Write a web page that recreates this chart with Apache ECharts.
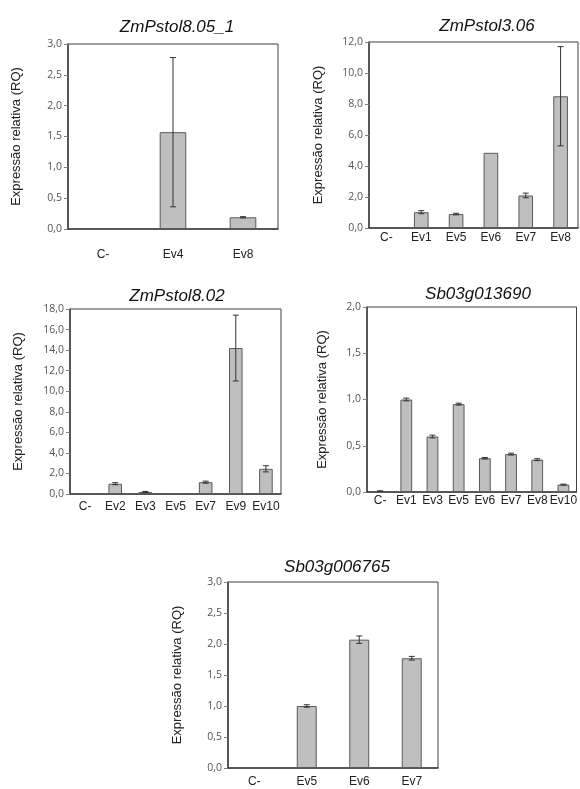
<!DOCTYPE html>
<html><head><meta charset="utf-8">
<script src="https://cdn.jsdelivr.net/npm/echarts@6/dist/echarts.min.js"></script>
<style>html,body{margin:0;padding:0;background:#fff}#c{width:580px;height:789px}</style>
</head><body><div id="c"></div>
<script>
const titles = ['ZmPstol8.05_1','ZmPstol3.06','ZmPstol8.02','Sb03g013690','Sb03g006765'];
const cats1 = ['C-','Ev4','Ev8'];
const vals1 = [0.015,1.57,0.19];
const err1  = [0,1.21,0.01];
const cats2 = ['C-','Ev1','Ev5','Ev6','Ev7','Ev8'];
const vals2 = [0,1.02,0.9,4.85,2.1,8.5];
const err2  = [0,0.1,0.05,0,0.15,3.2];
const cats3 = ['C-','Ev2','Ev3','Ev5','Ev7','Ev9','Ev10'];
const vals3 = [0.05,1.0,0.2,0.05,1.15,14.2,2.45];
const err3  = [0,0.1,0.05,0,0.1,3.2,0.3];
const cats4 = ['C-','Ev1','Ev3','Ev5','Ev6','Ev7','Ev8','Ev10'];
const vals4 = [0.01,1.0,0.6,0.95,0.365,0.41,0.35,0.08];
const err4  = [0.003,0.015,0.015,0.01,0.008,0.01,0.01,0.005];
const cats5 = ['C-','Ev5','Ev6','Ev7'];
const vals5 = [0,1.0,2.07,1.77];
const err5  = [0,0.02,0.06,0.03];
const yMax = [3,12,18,2,3];
const yStep = [0.5,2,2,0.5,0.5];
const yName = 'Expressão relativa (RQ)';

const panels = [
  {cats:cats1, vals:vals1, err:err1, g:{left:68,top:44,width:210,height:185}, t:[172,14], xm:20, bw:'38%', ng:45},
  {cats:cats2, vals:vals2, err:err2, g:{left:369,top:42,width:209,height:186}, t:[482,13], xm:4, bw:'42%', ng:44},
  {cats:cats3, vals:vals3, err:err3, g:{left:70,top:309,width:211,height:185}, t:[172,283], xm:7, bw:'45%', ng:45},
  {cats:cats4, vals:vals4, err:err4, g:{left:367,top:307,width:211,height:185}, t:[473,281], xm:3, bw:'45%', ng:38},
  {cats:cats5, vals:vals5, err:err5, g:{left:228,top:582,width:210,height:186}, t:[332,554], xm:8, bw:'38%', ng:44}
];

const fmt = v => v.toFixed(1).replace('.', ',');
const dark = '#404040';
const option = {animation:false, title:[], grid:[], xAxis:[], yAxis:[], series:[]};
panels.forEach((p,i)=>{
  option.title.push({text:titles[i], left:p.t[0], top:p.t[1], textAlign:'center',
    textStyle:{fontFamily:'Liberation Sans', fontStyle:'italic', fontWeight:'normal', fontSize:17, color:'#111'}});
  option.grid.push(Object.assign({show:true, borderColor:dark, borderWidth:1, backgroundColor:'transparent'}, p.g));
  option.xAxis.push({type:'category', gridIndex:i, data:p.cats,
    axisLine:{lineStyle:{color:dark,width:1.5}}, axisTick:{show:false},
    axisLabel:{color:'#222', fontFamily:'Liberation Sans', fontSize:12, margin:p.xm, interval:0}});
  option.yAxis.push({type:'value', gridIndex:i, min:0, max:yMax[i], interval:yStep[i],
    name:yName, nameLocation:'middle', nameGap:p.ng, nameRotate:90,
    nameTextStyle:{fontFamily:'Liberation Sans', fontSize:13, color:'#222'},
    axisLine:{show:true, lineStyle:{color:dark,width:1.5}}, axisTick:{show:true, length:4, lineStyle:{color:'#808080'}},
    splitLine:{show:false},
    axisLabel:{formatter:fmt, color:'#555', fontFamily:'Open Sans', fontSize:10.5, margin:6}});
  option.series.push({type:'bar', xAxisIndex:i, yAxisIndex:i, data:p.vals, barWidth:p.bw,
    itemStyle:{color:'#bfbfbf', borderColor:'#5a5a5a', borderWidth:1}});
  option.series.push({type:'custom', xAxisIndex:i, yAxisIndex:i,
    data:p.vals.map((v,k)=>[k, v-p.err[k], v+p.err[k]]),
    renderItem:(params, api)=>{
      const idx = api.value(0);
      const lo = api.coord([idx, api.value(1)]);
      const hi = api.coord([idx, api.value(2)]);
      if (hi[1] === lo[1]) return null;
      const w = 3;
      const st = {stroke:'#333', lineWidth:1};
      return {type:'group', children:[
        {type:'line', shape:{x1:hi[0],y1:hi[1],x2:lo[0],y2:lo[1]}, style:st},
        {type:'line', shape:{x1:hi[0]-w,y1:hi[1],x2:hi[0]+w,y2:hi[1]}, style:st},
        {type:'line', shape:{x1:lo[0]-w,y1:lo[1],x2:lo[0]+w,y2:lo[1]}, style:st}
      ]};
    }, z:5});
});
const chart = echarts.init(document.getElementById('c'), null, {renderer:'canvas'});
chart.setOption(option);
</script></body></html>
